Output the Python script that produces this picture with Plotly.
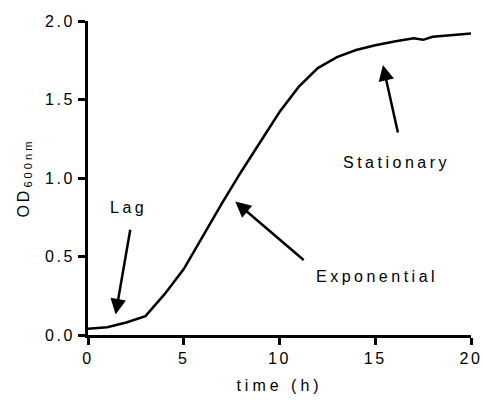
import plotly.graph_objects as go

time_h = [0, 1, 2, 3, 4, 5, 6, 7, 8, 9, 10, 11, 12, 13, 14, 15, 16, 17, 17.5, 18, 19, 20]
od600 = [0.04, 0.05, 0.08, 0.12, 0.26, 0.42, 0.63, 0.84, 1.04, 1.23, 1.42, 1.58, 1.70, 1.77, 1.815, 1.845, 1.87, 1.89, 1.88, 1.90, 1.91, 1.92]

x_tickvals = [0, 5, 10, 15, 20]
x_ticktext = ["0", "5", "10", "15", "20"]
y_tickvals = [0.0, 0.5, 1.0, 1.5, 2.0]
y_ticktext = ["0.0", "0.5", "1.0", "1.5", "2.0"]

phase_labels = ["Lag", "Exponential", "Stationary"]
label_pos = [(2.12, 0.81), (15.1, 0.37), (16.1, 1.10)]
arrow_head = [(1.44, 0.13), (7.69, 0.85), (15.4, 1.72)]
arrow_tail = [(2.22, 0.68), (11.34, 0.47), (16.2, 1.28)]

FONT = "Arial, 'Liberation Sans', sans-serif"

def spaced(s, ls=3.5):
    return f'<span style="letter-spacing:{ls}px">{s}</span>'

fig = go.Figure()
fig.add_trace(go.Scatter(x=time_h, y=od600, mode="lines",
                         line=dict(color="black", width=2.5), cliponaxis=False,
                         showlegend=False))

for lab, (tx, ty), (hx, hy), (sx, sy) in zip(phase_labels, label_pos, arrow_head, arrow_tail):
    fig.add_annotation(x=tx, y=ty, text=spaced(lab), showarrow=False,
                       font=dict(size=16, color="black", family=FONT))
    fig.add_annotation(x=hx, y=hy, ax=sx, ay=sy, xref="x", yref="y",
                       axref="x", ayref="y", text="", showarrow=True,
                       arrowhead=2, arrowsize=1.25, arrowwidth=2.5,
                       arrowcolor="black", standoff=0)

fig.update_layout(
    width=483, height=410,
    margin=dict(l=88, r=12, t=21, b=75),
    plot_bgcolor="white", paper_bgcolor="white",
    font=dict(family=FONT, size=16, color="black"),
    xaxis=dict(range=[0, 20], tickvals=x_tickvals,
               ticktext=[spaced(t, 2.5) for t in x_ticktext],
               showline=True, linecolor="black", linewidth=3,
               ticks="outside", ticklen=7, tickwidth=3, tickcolor="black",
               showgrid=False, zeroline=False, automargin=False,
               tickfont=dict(size=16),
               title=dict(text=spaced("time (h)", 4), standoff=14,
                          font=dict(size=16))),
    yaxis=dict(range=[0, 2], tickvals=y_tickvals,
               ticktext=[spaced(t, 2.5) for t in y_ticktext],
               showline=True, linecolor="black", linewidth=3,
               ticks="outside", ticklen=7, tickwidth=3, tickcolor="black",
               showgrid=False, zeroline=False, automargin=False,
               tickfont=dict(size=16),
               title=dict(text=spaced("OD<sub>600nm</sub>", 3), standoff=12,
                          font=dict(size=16))),
)

fig.write_html("out.html")
